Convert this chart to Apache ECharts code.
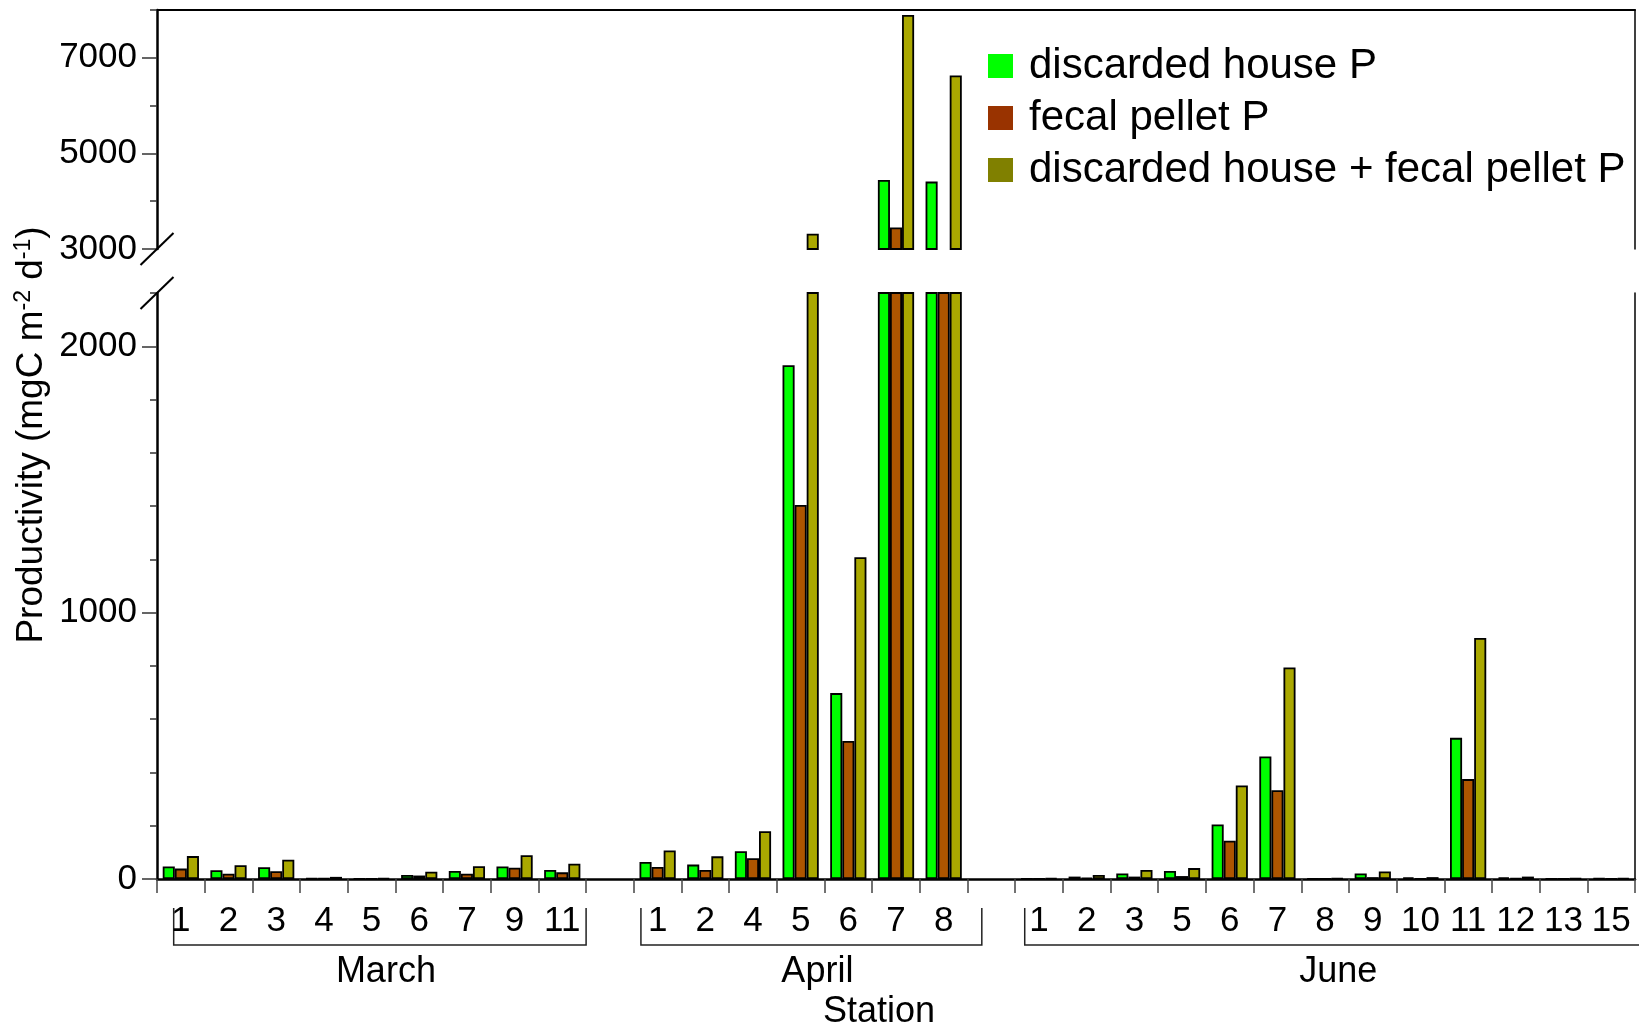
<!DOCTYPE html>
<html>
<head>
<meta charset="utf-8">
<script src="https://cdn.jsdelivr.net/npm/echarts@6/dist/echarts.min.js"></script>
<style>
  html, body { margin: 0; padding: 0; background: #fff; }
  #chart { width: 1639px; height: 1028px; }
</style>
</head>
<body>
<div id="chart"></div>
<script>
// Stations sampled in each cruise month
const months = ['March', 'April', 'June'];
const marchStations = ['1', '2', '3', '4', '5', '6', '7', '9', '11'];
const aprilStations = ['1', '2', '4', '5', '6', '7', '8'];
const juneStations  = ['1', '2', '3', '5', '6', '7', '8', '9', '10', '11', '12', '13', '15'];

// Productivity (mgC m-2 d-1)
const marchHouse  = [47, 33, 44, 2, 1, 15, 30, 47, 34];
const marchPellet = [39, 20, 29, 2, 1, 13, 20, 42, 25];
const marchTotal  = [86, 52, 72, 8, 3, 27, 48, 89, 57];

const aprilHouse  = [64, 54, 104, 1929, 698, 4445, 4410];
const aprilPellet = [45, 34, 78, 1404, 518, 3452, 2220];
const aprilTotal  = [107, 85, 179, 3320, 1208, 7897, 6630];

const juneHouse  = [1, 9, 21, 30, 205, 460, 1, 21, 6, 530, 6, 1, 2];
const junePellet = [1, 5, 9, 11, 144, 333, 0, 7, 1, 375, 3, 0, 1];
const juneTotal  = [3, 15, 34, 41, 351, 794, 2, 28, 7, 905, 9, 2, 3];

// Axis break: lower panel 0–2200, upper panel 3000–8000
const lowerRange = [0, 2200];
const upperRange = [3000, 8000];
const lowerMajorTicks = [0, 1000, 2000];
const upperMajorTicks = [3000, 5000, 7000];

const seriesNames = ['discarded house P', 'fecal pellet P', 'discarded house + fecal pellet P'];
const barColors = ['#00ff00', '#ad5500', '#aaa800'];
const legendColors = ['#00ff00', '#993300', '#808000'];

const FONT = '"Liberation Sans", Arial, Helvetica, sans-serif';

// Build the category axis: month groups separated by an empty slot
const categories = [];
const groups = [];
const houseData = [], pelletData = [], totalData = [];
function addGroup(month, stations, house, pellet, total) {
  const start = categories.length;
  stations.forEach((s, i) => {
    categories.push(month + ' ' + s);
    houseData.push(house[i]);
    pelletData.push(pellet[i]);
    totalData.push(total[i]);
  });
  groups.push({ month, start, end: categories.length - 1 });
}
function addGap(id) {
  categories.push('gap ' + id);
  houseData.push('-'); pelletData.push('-'); totalData.push('-');
}
addGroup(months[0], marchStations, marchHouse, marchPellet, marchTotal);
addGap(1);
addGroup(months[1], aprilStations, aprilHouse, aprilPellet, aprilTotal);
addGap(2);
addGroup(months[2], juneStations, juneHouse, junePellet, juneTotal);

const seriesData = [houseData, pelletData, totalData];

const GRID_LEFT = 157, GRID_RIGHT = 4;
const UPPER_TOP = 10, UPPER_H = 239;
const LOWER_TOP = 293, LOWER_H = 586;

function barSeries(i, xIdx, yIdx) {
  return {
    type: 'bar',
    name: seriesNames[i],
    xAxisIndex: xIdx,
    yAxisIndex: yIdx,
    data: seriesData[i],
    barGap: '0%',
    barCategoryGap: '24%',
    clip: true,
    itemStyle: { color: barColors[i], borderColor: '#000', borderWidth: 1.8 },
    emphasis: { disabled: true },
    animation: false
  };
}

const tickLabelStyle = {
  color: '#000', fontSize: 35, fontFamily: FONT,
  formatter: v => String(v)
};

const option = {
  animation: false,
  backgroundColor: '#fff',
  textStyle: { fontFamily: FONT },
  grid: [
    { left: GRID_LEFT, right: GRID_RIGHT, top: UPPER_TOP, height: UPPER_H, containLabel: false, outerBoundsMode: 'none' },
    { left: GRID_LEFT, right: GRID_RIGHT, top: LOWER_TOP, height: LOWER_H, containLabel: false, outerBoundsMode: 'none' }
  ],
  legend: {
    orient: 'vertical',
    left: 988,
    top: 45,
    padding: 0,
    itemWidth: 25,
    itemHeight: 24,
    itemGap: 10,
    icon: 'rect',
    selectedMode: false,
    textStyle: { color: '#000', fontSize: 42, lineHeight: 42, fontFamily: FONT, padding: [0, 0, 0, 11] },
    data: seriesNames.map((n, i) => ({
      name: n,
      itemStyle: { color: legendColors[i], borderWidth: 0 }
    }))
  },
  xAxis: [
    {
      // upper panel: frame line along the top
      type: 'category', gridIndex: 0, position: 'top', data: categories,
      boundaryGap: true,
      axisLine: { show: true, onZero: false, lineStyle: { color: '#000', width: 2 } },
      axisTick: { show: false },
      axisLabel: { show: false },
      splitLine: { show: false }
    },
    {
      type: 'category', gridIndex: 1, position: 'bottom', data: categories,
      boundaryGap: true,
      axisLine: { show: true, onZero: false, lineStyle: { color: '#000', width: 2.5 } },
      axisTick: { show: true, interval: 0, inside: false, length: 14, lineStyle: { color: '#444', width: 1.5 } },
      axisLabel: {
        show: true, interval: 0, margin: 25, hideOverlap: false,
        color: '#000', fontSize: 35, lineHeight: 35, fontFamily: FONT,
        formatter: v => v.startsWith('gap') ? '' : v.split(' ')[1]
      },
      splitLine: { show: false }
    }
  ],
  yAxis: [
    // 0: upper left, minor ticks + axis line
    {
      type: 'value', gridIndex: 0, position: 'left', min: upperRange[0], max: upperRange[1], interval: 1000,
      axisLine: { show: true, lineStyle: { color: '#000', width: 2.5 } },
      axisTick: { show: true, length: 7, lineStyle: { color: '#333', width: 1.5 } },
      axisLabel: { show: false },
      splitLine: { show: false }
    },
    // 1: upper left, major ticks + labels
    {
      type: 'value', gridIndex: 0, position: 'left', min: upperRange[0], max: upperRange[1],
      axisLine: { show: false },
      axisTick: { show: true, length: 15, customValues: upperMajorTicks, lineStyle: { color: '#333', width: 1.5 } },
      axisLabel: Object.assign({ show: true, margin: 20, customValues: upperMajorTicks }, tickLabelStyle),
      splitLine: { show: false }
    },
    // 2: upper right frame line
    {
      type: 'value', gridIndex: 0, position: 'right', min: upperRange[0], max: upperRange[1],
      axisLine: { show: true, lineStyle: { color: '#000', width: 1.5 } },
      axisTick: { show: false }, axisLabel: { show: false }, splitLine: { show: false }
    },
    // 3: lower left, minor ticks + axis line
    {
      type: 'value', gridIndex: 1, position: 'left', min: lowerRange[0], max: lowerRange[1], interval: 200,
      axisLine: { show: true, lineStyle: { color: '#000', width: 2.5 } },
      axisTick: { show: true, length: 7, lineStyle: { color: '#333', width: 1.5 } },
      axisLabel: { show: false },
      splitLine: { show: false }
    },
    // 4: lower left, major ticks + labels
    {
      type: 'value', gridIndex: 1, position: 'left', min: lowerRange[0], max: lowerRange[1],
      axisLine: { show: false },
      axisTick: { show: true, length: 15, customValues: lowerMajorTicks, lineStyle: { color: '#333', width: 1.5 } },
      axisLabel: Object.assign({ show: true, margin: 20, customValues: lowerMajorTicks }, tickLabelStyle),
      splitLine: { show: false }
    },
    // 5: lower right frame line
    {
      type: 'value', gridIndex: 1, position: 'right', min: lowerRange[0], max: lowerRange[1],
      axisLine: { show: true, lineStyle: { color: '#000', width: 1.5 } },
      axisTick: { show: false }, axisLabel: { show: false }, splitLine: { show: false }
    }
  ],
  series: [
    barSeries(0, 1, 3), barSeries(1, 1, 3), barSeries(2, 1, 3),
    barSeries(0, 0, 0), barSeries(1, 0, 0), barSeries(2, 0, 0)
  ]
};

const chart = echarts.init(document.getElementById('chart'), null, { renderer: 'canvas' });
chart.setOption(option);

// Decorations placed from the axes: break marks, month brackets and titles
const cx = key => chart.convertToPixel({ xAxisIndex: 1 }, key);
const slot = cx(categories[1]) - cx(categories[0]);
const axisX = cx(categories[0]) - slot / 2;
const yBreakUpper = chart.convertToPixel({ yAxisIndex: 0 }, upperRange[0]);
const yBreakLower = chart.convertToPixel({ yAxisIndex: 3 }, lowerRange[1]);

const graphics = [];
[yBreakUpper, yBreakLower].forEach(y => {
  graphics.push({
    type: 'line', z: 100,
    shape: { x1: axisX - 16.5, y1: y + 16, x2: axisX + 16.5, y2: y - 16 },
    style: { stroke: '#000', lineWidth: 2 }
  });
});

const bracketTop = 908, bracketBottom = 945, monthY = 972;
const bracketPad = [[0.15, 0.5], [0.35, 0.8], [0.3, 0.6]];
groups.forEach((g, gi) => {
  const left = cx(categories[g.start]) - bracketPad[gi][0] * slot;
  const right = cx(categories[g.end]) + bracketPad[gi][1] * slot;
  graphics.push({
    type: 'polyline',
    shape: { points: [[left, bracketTop], [left, bracketBottom], [right, bracketBottom], [right, bracketTop]] },
    style: { stroke: '#222', lineWidth: 1.5, fill: null }
  });
  graphics.push({
    type: 'text', x: (left + right) / 2 + 6, y: monthY,
    style: { text: g.month, fontSize: 36, fontFamily: FONT, fill: '#000', align: 'center', verticalAlign: 'middle' }
  });
});

const plotRight = cx(categories[categories.length - 1]) + slot / 2;
graphics.push({
  type: 'text', x: (axisX + plotRight) / 2 - 17, y: 1012,
  style: { text: 'Station', fontSize: 36, fontFamily: FONT, fill: '#000', align: 'center', verticalAlign: 'middle' }
});

graphics.push({
  type: 'text', x: 32, y: 435, rotation: Math.PI / 2,
  style: {
    text: '{t|Productivity (mgC m}{s|-2}{t| d}{s|-1}{t|)}',
    align: 'center', verticalAlign: 'middle',
    rich: {
      t: { fontSize: 37, fontFamily: FONT, fill: '#000', lineHeight: 40 },
      s: { fontSize: 23, fontFamily: FONT, fill: '#000', lineHeight: 23, verticalAlign: 'top' }
    }
  }
});

chart.setOption({ graphic: graphics });
</script>
</body>
</html>
